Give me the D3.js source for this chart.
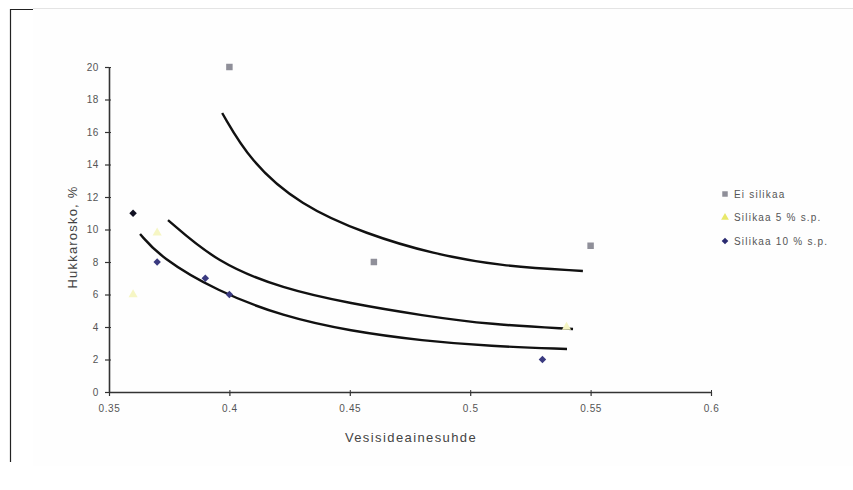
<!DOCTYPE html>
<html>
<head>
<meta charset="utf-8">
<script src="https://cdn.jsdelivr.net/npm/d3@7"></script>
<style>
  body { margin: 0; background: #fff; }
  svg { display: block; font-family: "Liberation Sans", Arial, sans-serif; }
</style>
</head>
<body>
<script>
// ---- data ----
var xTicks = [0.35, 0.4, 0.45, 0.5, 0.55, 0.6];
var yTicks = [0, 2, 4, 6, 8, 10, 12, 14, 16, 18, 20];

var seriesNames = ["Ei silikaa", "Silikaa 5 % s.p.", "Silikaa 10 % s.p."];

// Ei silikaa (grey squares)
var eiX = [0.40, 0.46, 0.55];
var eiY = [20, 8, 9];
// Silikaa 5 % (pale yellow triangles)
var s5X = [0.37, 0.36, 0.54];
var s5Y = [9.8, 6, 4];
// Silikaa 10 % (navy diamonds)
var s10X = [0.36, 0.37, 0.39, 0.40, 0.53];
var s10Y = [11, 8, 7, 6, 2];

// trend curves
var trendEiX = [0.397, 0.4086, 0.4293, 0.4571, 0.4846, 0.5124, 0.5468];
var trendEiY = [17.17, 14.2, 11.5, 9.7, 8.5, 7.75, 7.45];
var trend5X = [0.3745, 0.3949, 0.4223, 0.4501, 0.4804, 0.5082, 0.5427];
var trend5Y = [10.58, 7.95, 6.35, 5.45, 4.7, 4.15, 3.88];
var trend10X = [0.3629, 0.3712, 0.3949, 0.4223, 0.4501, 0.4804, 0.5082, 0.5402];
var trend10Y = [9.72, 8.3, 6.2, 4.65, 3.75, 3.15, 2.82, 2.65];

var W = 853, H = 490;

var svg = d3.select("body").append("svg")
    .attr("width", W)
    .attr("height", H);

// frame bits of the original picture
svg.append("rect").attr("x", 33).attr("y", 8).attr("width", W - 33).attr("height", 458).attr("fill", "#fefefe");
svg.append("line").attr("x1", 33).attr("x2", W).attr("y1", 8.5).attr("y2", 8.5).attr("stroke", "#e4e4e4");
svg.append("path").attr("d", "M33,9.5H10.5V462").attr("fill", "none").attr("stroke", "#222").attr("stroke-width", 1.2);

var x = d3.scaleLinear().domain([0.35, 0.6]).range([109, 711]);
var y = d3.scaleLinear().domain([0, 20]).range([392, 67]);

//-----------------------------------------------------------------------------------
// axes
//-----------------------------------------------------------------------------------
var xAxis = svg.append("g")
    .attr("transform", "translate(0,392)")
    .call(d3.axisBottom(x).tickValues(xTicks).tickSize(4).tickSizeOuter(0)
        .tickFormat(function(d){ return String(+d.toFixed(2)); }));
var yAxis = svg.append("g")
    .attr("transform", "translate(109,0)")
    .call(d3.axisLeft(y).tickValues(yTicks).tickSize(4).tickSizeOuter(0));

[xAxis, yAxis].forEach(function(a){
  a.select(".domain").attr("stroke", "#333").attr("stroke-width", 1.6);
  a.selectAll(".tick line").attr("stroke", "#333").attr("stroke-width", 1.2);
  a.selectAll(".tick text").attr("fill", "#555")
      .style("font-size", "10px").style("letter-spacing", "0.6px");
});
xAxis.selectAll(".tick text").attr("dy", "1.25em");
yAxis.selectAll(".tick text").attr("dx", "-3");
// small inner part of the crossing ticks
xAxis.selectAll(".tick").append("line").attr("y1", 0).attr("y2", -2).attr("stroke", "#333");
yAxis.selectAll(".tick").append("line").attr("x1", 0).attr("x2", 2).attr("stroke", "#333");

svg.append("text")
    .attr("x", 411).attr("y", 442)
    .attr("text-anchor", "middle")
    .attr("fill", "#444")
    .style("font-size", "13px")
    .style("letter-spacing", "1.4px")
    .text("Vesisideainesuhde");

svg.append("text")
    .attr("transform", "translate(77,237) rotate(-90)")
    .attr("text-anchor", "middle")
    .attr("fill", "#444")
    .style("font-size", "13px")
    .style("letter-spacing", "1.2px")
    .text("Hukkarosko, %");

//-----------------------------------------------------------------------------------
// trend lines
//-----------------------------------------------------------------------------------
var line = d3.line()
    .x(function(d){ return x(d[0]); })
    .y(function(d){ return y(d[1]); })
    .curve(d3.curveBasis);

[[trendEiX, trendEiY], [trend5X, trend5Y], [trend10X, trend10Y]].forEach(function(t){
  svg.append("path")
      .datum(d3.zip(t[0], t[1]))
      .attr("d", line)
      .attr("fill", "none")
      .attr("stroke", "#111")
      .attr("stroke-width", 2.4);
});

//-----------------------------------------------------------------------------------
// points
//-----------------------------------------------------------------------------------
var sq = d3.symbol().type(d3.symbolSquare).size(42);
var tri = d3.symbol().type(d3.symbolTriangle).size(36);
var dia = d3.symbol().type(d3.symbolSquare).size(28);

svg.append("g").selectAll("path")
    .data(d3.zip(eiX, eiY)).join("path")
    .attr("d", sq)
    .attr("transform", function(d){ return "translate(" + x(d[0]) + "," + y(d[1]) + ")"; })
    .attr("fill", "#8f8f99");

svg.append("g").selectAll("path")
    .data(d3.zip(s5X, s5Y)).join("path")
    .attr("d", tri)
    .attr("transform", function(d){ return "translate(" + x(d[0]) + "," + y(d[1]) + ")"; })
    .attr("fill", "#f6f6c4");

svg.append("g").selectAll("path")
    .data(d3.zip(s10X, s10Y)).join("path")
    .attr("d", dia)
    .attr("transform", function(d){ return "translate(" + x(d[0]) + "," + y(d[1]) + ") rotate(45)"; })
    .attr("fill", function(d, i){ return i === 0 ? "#111122" : "#3a3a80"; });

//-----------------------------------------------------------------------------------
// legend
//-----------------------------------------------------------------------------------
var legColors = ["#8f8f99", "#e8e86a", "#2a2a70"];
var legSyms = [d3.symbol().type(d3.symbolSquare).size(30), d3.symbol().type(d3.symbolTriangle).size(26), d3.symbol().type(d3.symbolSquare).size(22)];
var leg = svg.append("g").selectAll("g")
    .data(seriesNames).join("g")
    .attr("transform", function(d, i){ return "translate(725," + (194 + i * 23.5) + ")"; });
leg.append("path")
    .attr("d", function(d, i){ return legSyms[i](); })
    .attr("transform", function(d, i){ return i === 2 ? "rotate(45)" : null; })
    .attr("fill", function(d, i){ return legColors[i]; });
leg.append("text")
    .attr("x", 9).attr("dy", "0.35em")
    .attr("fill", "#555")
    .style("font-size", "10px")
    .style("letter-spacing", "1.2px")
    .text(function(d){ return d; });
</script>
</body>
</html>
